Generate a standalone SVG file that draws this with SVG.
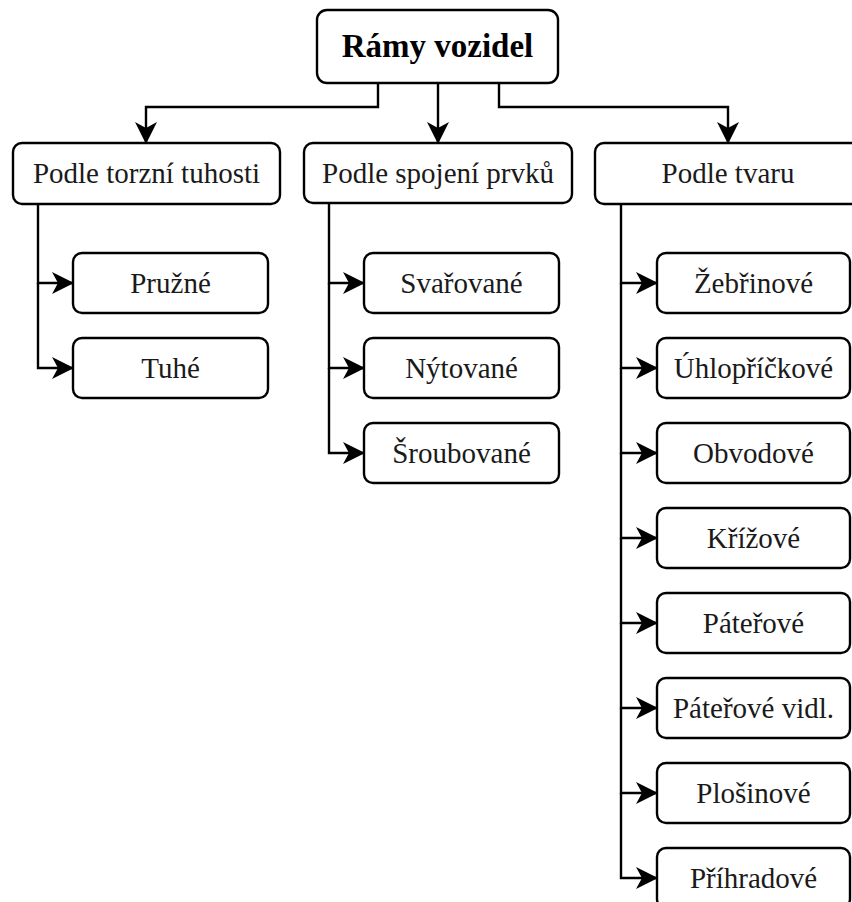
<svg xmlns="http://www.w3.org/2000/svg" width="852" height="902" viewBox="0 0 852 902">
<style>
.box{fill:#fff;stroke:#000;stroke-width:2.4}
.t{font-family:"Liberation Serif","Times New Roman",serif;font-size:29px;text-anchor:middle;fill:#1a1a1a}
.root{font-size:33px;font-weight:bold;fill:#000}
.c{fill:none;stroke:#000;stroke-width:2.4;marker-end:url(#ah)}
</style>
<defs>
<marker id="ah" markerUnits="userSpaceOnUse" viewBox="0 0 22 22" refX="21" refY="11" markerWidth="22" markerHeight="22" orient="auto">
<path d="M0,0 L22,11 L0,22 L6,11 Z" fill="#000"/>
</marker>
</defs>
<rect width="852" height="902" fill="#fff"/>
<g id="connectors">
<path class="c" d="M378,83 V107 H146 V143"/>
<path class="c" d="M438,83 V143"/>
<path class="c" d="M499,83 V107 H728 V143"/>
<path class="c" d="M38,204 V283 H73"/>
<path class="c" d="M38,283 V368 H73"/>
<path class="c" d="M329,203 V283 H364"/>
<path class="c" d="M329,283 V368 H364"/>
<path class="c" d="M329,368 V453 H364"/>
<path class="c" d="M621,204 V283 H657"/>
<path class="c" d="M621,283 V368 H657"/>
<path class="c" d="M621,368 V453 H657"/>
<path class="c" d="M621,453 V538 H657"/>
<path class="c" d="M621,538 V623 H657"/>
<path class="c" d="M621,623 V708 H657"/>
<path class="c" d="M621,708 V793 H657"/>
<path class="c" d="M621,793 V878 H657"/>
</g>
<g id="root"><rect class="box" x="317" y="10" width="241" height="73" rx="10"/><text class="t root" x="437.5" y="57">Rámy vozidel</text></g>
<g id="torzni"><rect class="box" x="13" y="143" width="267" height="61" rx="9"/><text class="t" x="146.5" y="183">Podle torzní tuhosti</text></g>
<g id="spojeni"><rect class="box" x="304" y="143" width="268" height="60" rx="9"/><text class="t" x="438" y="183">Podle spojení prvků</text></g>
<g id="tvar"><rect class="box" x="595" y="143" width="266" height="61" rx="9"/><text class="t" x="728" y="183">Podle tvaru</text></g>
<g id="pruzne"><rect class="box" x="73" y="253" width="195" height="60" rx="9"/><text class="t" x="170.5" y="293">Pružné</text></g>
<g id="tuhe"><rect class="box" x="73" y="338" width="195" height="60" rx="9"/><text class="t" x="170.5" y="378">Tuhé</text></g>
<g id="svarovane"><rect class="box" x="364" y="253" width="195" height="60" rx="9"/><text class="t" x="461.5" y="293">Svařované</text></g>
<g id="nytovane"><rect class="box" x="364" y="338" width="195" height="60" rx="9"/><text class="t" x="461.5" y="378">Nýtované</text></g>
<g id="sroubovane"><rect class="box" x="364" y="423" width="195" height="60" rx="9"/><text class="t" x="461.5" y="463">Šroubované</text></g>
<g id="zebrinove"><rect class="box" x="657" y="253" width="193" height="60" rx="9"/><text class="t" x="753.5" y="293">Žebřinové</text></g>
<g id="uhloprickove"><rect class="box" x="657" y="338" width="193" height="60" rx="9"/><text class="t" x="753.5" y="378">Úhlopříčkové</text></g>
<g id="obvodove"><rect class="box" x="657" y="423" width="193" height="60" rx="9"/><text class="t" x="753.5" y="463">Obvodové</text></g>
<g id="krizove"><rect class="box" x="657" y="508" width="193" height="60" rx="9"/><text class="t" x="753.5" y="548">Křížové</text></g>
<g id="paterove"><rect class="box" x="657" y="593" width="193" height="60" rx="9"/><text class="t" x="753.5" y="633">Páteřové</text></g>
<g id="paterove-vidl"><rect class="box" x="657" y="678" width="193" height="60" rx="9"/><text class="t" x="753.5" y="718">Páteřové vidl.</text></g>
<g id="plosinove"><rect class="box" x="657" y="763" width="193" height="60" rx="9"/><text class="t" x="753.5" y="803">Plošinové</text></g>
<g id="prihradove"><rect class="box" x="657" y="848" width="193" height="60" rx="9"/><text class="t" x="753.5" y="888">Příhradové</text></g>
</svg>
